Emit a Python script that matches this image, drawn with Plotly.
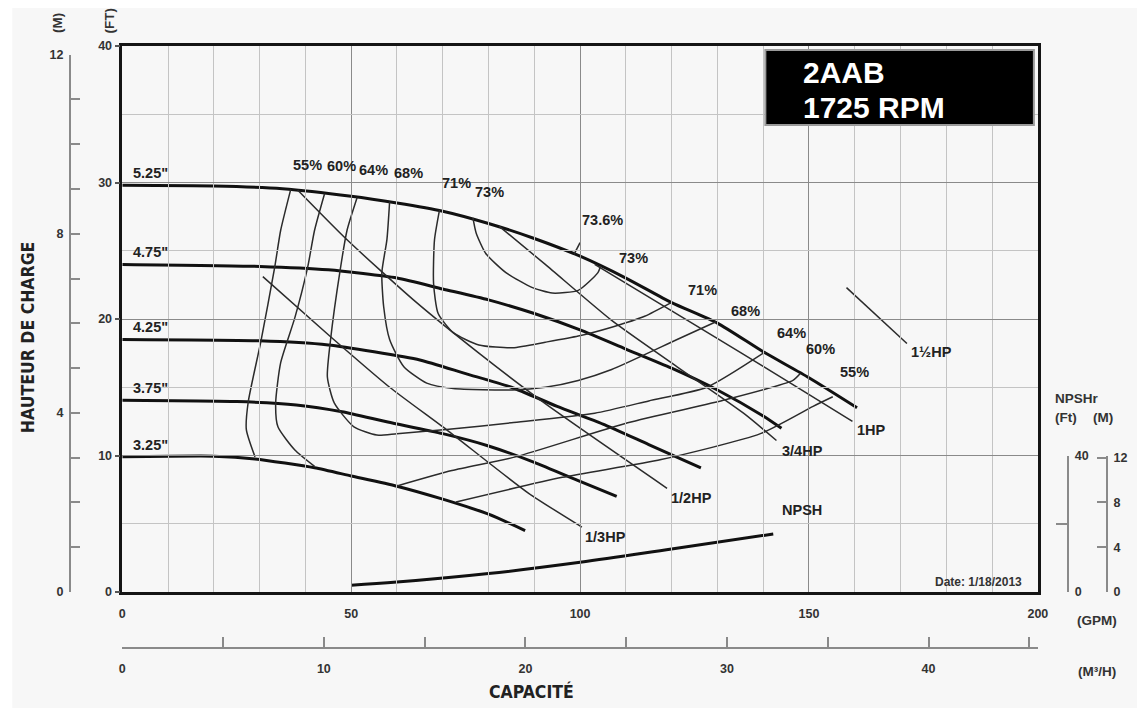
import plotly.graph_objects as go

# ---------------- data ----------------
diam_labels = ['5.25"', '4.75"', '4.25"', '3.75"', '3.25"']

gpm_525 = [0, 20, 35, 50, 60, 70, 80, 90, 100, 110, 120, 130, 140, 150, 160.5]
ft_525 = [29.8, 29.75, 29.55, 29.0, 28.5, 27.9, 27.0, 25.9, 24.6, 23.0, 21.2, 19.7, 17.6, 15.7, 13.5]
gpm_475 = [0, 30, 45, 60, 70, 80, 90, 100, 110, 120, 130, 140, 144]
ft_475 = [24.0, 23.85, 23.6, 23.0, 22.2, 21.4, 20.4, 19.2, 17.8, 16.4, 14.8, 12.9, 12.0]
gpm_425 = [0, 30, 45, 55, 65, 75, 85, 95, 105, 115, 126.4]
ft_425 = [18.5, 18.4, 18.1, 17.6, 17.0, 16.0, 15.0, 13.6, 12.3, 10.8, 9.1]
gpm_375 = [0, 25, 38, 48, 58, 70, 80, 90, 100, 108]
ft_375 = [14.05, 13.95, 13.7, 13.2, 12.45, 11.6, 10.7, 9.5, 8.1, 7.0]
gpm_325 = [0, 20, 29, 42, 50, 60, 70, 80, 88]
ft_325 = [9.9, 9.95, 9.75, 9.1, 8.5, 7.75, 6.8, 5.7, 4.5]

# efficiency contours
eff55a_gpm = [36.8, 34.6, 33.3, 30.3, 27.5, 27.1, 29.0]
eff55a_ft = [29.5, 26.5, 23.8, 18.4, 13.9, 11.9, 9.9]
eff55b_gpm = [72.9, 96.1, 117.7, 139.4, 150.9, 155.2]
eff55b_ft = [6.6, 8.4, 9.7, 11.6, 13.6, 14.3]
eff60a_gpm = [44.2, 42.0, 40.5, 37.7, 34.6, 33.5, 34.0, 37.7, 42.0]
eff60a_ft = [29.2, 26.5, 23.8, 20.1, 16.8, 13.8, 12.1, 10.4, 9.2]
eff60b_gpm = [60.0, 72.0, 85.9, 110.4, 132.0, 146.5, 148.1]
eff60b_ft = [7.77, 8.9, 9.9, 12.4, 14.1, 15.5, 16.0]
eff64_gpm = [51.3, 49.1, 47.6, 45.5, 44.8, 46.3, 50.6, 55.6, 60.0, 70.8, 85.0, 103.2, 115.0, 127.7, 140.5]
eff64_ft = [28.9, 26.5, 23.6, 18.5, 15.75, 13.85, 12.1, 11.5, 11.6, 11.9, 12.4, 13.1, 14.0, 15.0, 17.6]
eff68_gpm = [58.4, 57.8, 56.7, 57.1, 58.4, 61.5, 66.5, 72.3, 85.3, 92.4, 99.6, 106.9, 121.2, 129.7]
eff68_ft = [28.6, 25.8, 23.4, 20.9, 18.5, 16.5, 15.3, 14.9, 14.8, 15.0, 15.5, 16.3, 18.5, 19.8]
eff71_gpm = [69.3, 68.2, 68.0, 69.0, 72.3, 77.9, 85.3, 92.4, 99.6, 106.9, 114.1, 119.9]
eff71_ft = [28.0, 25.8, 22.6, 20.4, 19.0, 18.1, 17.9, 18.3, 18.75, 19.4, 20.2, 21.2]
eff73_gpm = [76.6, 77.3, 79.4, 83.8, 89.6, 93.9, 99.6, 103.9, 104.5]
eff73_ft = [27.4, 26.3, 24.8, 23.4, 22.3, 21.9, 22.1, 23.4, 23.9]
eff736_gpm = [98.7, 100.0]
eff736_ft = [24.75, 25.6]

# horsepower lines
hp13_gpm = [30.7, 45.5, 58.4, 70.8, 88.7, 100.4]
hp13_ft = [23.1, 18.7, 15.0, 11.9, 7.25, 4.76]
hp12_gpm = [38.3, 49.1, 63.6, 77.9, 92.4, 119.0]
hp12_ft = [29.45, 25.8, 21.4, 17.5, 13.8, 7.6]
hp34_gpm = [82.3, 92.4, 106.9, 121.2, 135.7, 142.9]
hp34_ft = [26.8, 24.0, 19.9, 16.5, 13.1, 11.1]
hp1_gpm = [103.2, 124.9, 146.5, 159.5]
hp1_ft = [24.0, 19.6, 15.2, 12.5]
hp15_gpm = [158.2, 171.4]
hp15_ft = [22.3, 18.2]

# NPSH required (ft)
npsh_gpm = [50, 60, 80, 100, 120, 142.2]
npsh_ft = [2.0, 2.9, 5.4, 8.7, 12.6, 17.0]

# tick labels
gpm_ticks = [0, 50, 100, 150, 200]
head_ft_ticks = [0, 10, 20, 30, 40]
head_m_ticks = list(range(0, 13))
head_m_labels = ['0', '', '', '', '4', '', '', '', '8', '', '', '', '12']
m3h_ticks = [0, 5, 10, 15, 20, 25, 30, 35, 40, 45]
m3h_labels = ['0', '', '10', '', '20', '', '30', '', '40', '']
npsh_ft_ticks = [0, 20, 40]
npsh_ft_labels = ['0', '', '40']
npsh_m_ticks = [0, 4, 8, 12]

# ---------------- layout helpers (page pixels -> paper) ----------------
OFF = 8                      # default page body margin
FIG_W, FIG_H = 1147 - OFF, 712 - OFF
PL, PR, PT, PB = 37, 1132, 38, 652      # plot area in figure pixels
W = PR - PL
H = PB - PT


def fx(px):
    return (px - OFF - PL) / W


def fy(py):
    return (PB - (py - OFF)) / H


X0, X1, Y0, Y1 = 123, 1047, 592, 46     # main frame in page pixels
PX_PER_FT = (Y0 - Y1) / 40.0
xdom = [fx(X0), fx(X1)]
ydom = [fy(Y0), fy(Y1)]

TXT = '#222222'
AX_GRAY = '#8a8a8a'
ARIAL = 'Liberation Sans, Arial, sans-serif'
tickfont = dict(family=ARIAL, size=12.5, color='#333333', weight='bold')
labfont = dict(family=ARIAL, size=14.5, color=TXT, weight='bold')
condfont = dict(family='Liberation Sans Narrow, DejaVu Sans Condensed, Open Sans, sans-serif',
                size=17.5, color='#222222', weight='bold')
unitfont = dict(family=ARIAL, size=13.5, color='#333', weight='bold')

fig = go.Figure()

heavy = dict(color='#111111', width=3, shape='spline', smoothing=0.6)
thin = dict(color='#2b2b2b', width=1.5, shape='spline', smoothing=0.6)

for gx, gy in [(gpm_525, ft_525), (gpm_475, ft_475), (gpm_425, ft_425),
               (gpm_375, ft_375), (gpm_325, ft_325)]:
    fig.add_trace(go.Scatter(x=gx, y=gy, mode='lines', line=heavy, hoverinfo='skip'))

for gx, gy in [(eff55a_gpm, eff55a_ft), (eff55b_gpm, eff55b_ft), (eff60a_gpm, eff60a_ft),
               (eff60b_gpm, eff60b_ft), (eff64_gpm, eff64_ft), (eff68_gpm, eff68_ft),
               (eff71_gpm, eff71_ft), (eff73_gpm, eff73_ft), (eff736_gpm, eff736_ft),
               (hp13_gpm, hp13_ft), (hp12_gpm, hp12_ft), (hp34_gpm, hp34_ft),
               (hp1_gpm, hp1_ft), (hp15_gpm, hp15_ft)]:
    fig.add_trace(go.Scatter(x=gx, y=gy, mode='lines', line=thin, hoverinfo='skip'))

# NPSH on its own compressed scale
fig.add_trace(go.Scatter(x=npsh_gpm, y=npsh_ft, mode='lines', xaxis='x', yaxis='y4',
                         line=dict(color='#111111', width=3, shape='spline'), hoverinfo='skip'))
# empty traces so that the secondary scales are drawn
fig.add_trace(go.Scatter(x=[], y=[], xaxis='x', yaxis='y3', hoverinfo='skip'))
fig.add_trace(go.Scatter(x=[], y=[], xaxis='x', yaxis='y5', hoverinfo='skip'))
fig.add_trace(go.Scatter(x=[], y=[], xaxis='x2', yaxis='y', hoverinfo='skip'))

ann = []

# diameter labels
for lab, gy in zip(diam_labels, [ft_525, ft_475, ft_425, ft_375, ft_325]):
    ann.append(dict(x=1.8, y=gy[0] + 0.9, text=lab, xref='x', yref='y', showarrow=False,
                    xanchor='left', yanchor='middle', font=labfont))

# efficiency / HP labels (data coords)
labels = [
    ('55%', 36.8, 31.3), ('60%', 44.2, 31.2), ('64%', 51.3, 30.9), ('68%', 58.9, 30.7),
    ('71%', 69.3, 30.0), ('73%', 76.6, 29.3),
    ('73.6%', 100.0, 27.25), ('73%', 108.0, 24.5), ('71%', 123.2, 22.1), ('68%', 132.5, 20.6),
    ('64%', 142.6, 18.95), ('60%', 148.9, 17.8), ('55%', 156.3, 16.1),
    ('1½HP', 171.9, 17.6), ('1HP', 160.0, 11.9), ('3/4HP', 143.7, 10.3),
    ('1/2HP', 119.5, 6.9), ('1/3HP', 100.6, 4.0), ('NPSH', 143.7, 6.0),
]
for t, x, y in labels:
    ann.append(dict(x=x, y=y, text=t, xref='x', yref='y', showarrow=False,
                    xanchor='left', yanchor='middle', font=labfont))

# box text
boxfont = dict(family=ARIAL, size=30, color='white', weight='bold')
ann.append(dict(x=fx(808), y=fy(72), text='2AAB', xref='paper', yref='paper', showarrow=False,
                xanchor='left', yanchor='middle', font=boxfont))
ann.append(dict(x=fx(808), y=fy(107), text='1725 RPM', xref='paper', yref='paper', showarrow=False,
                xanchor='left', yanchor='middle', font=boxfont))

# date
ann.append(dict(x=fx(1033), y=fy(582), text='Date: 1/18/2013', xref='paper', yref='paper',
                showarrow=False, xanchor='right', yanchor='middle',
                font=dict(family=ARIAL, size=12, color='#333', weight='bold')))

# axis titles and unit labels
ann.append(dict(x=fx(28), y=fy(337), text='HAUTEUR DE CHARGE', textangle=-90, xref='paper',
                yref='paper', showarrow=False, xanchor='center', yanchor='middle', font=condfont))
ann.append(dict(x=fx(536), y=fy(691), text='CAPACITÉ', xref='paper', yref='paper',
                showarrow=False, xanchor='center', yanchor='middle', font=condfont))
ann.append(dict(x=fx(1107), y=fy(620), text='(GPM)', xref='paper', yref='paper', showarrow=False,
                xanchor='center', yanchor='middle', font=unitfont))
ann.append(dict(x=fx(1107), y=fy(671), text='(M³/H)', xref='paper', yref='paper', showarrow=False,
                xanchor='center', yanchor='middle', font=unitfont))
ann.append(dict(x=fx(1062), y=fy(398), text='NPSHr', xref='paper', yref='paper', showarrow=False,
                xanchor='left', yanchor='middle', font=unitfont))
ann.append(dict(x=fx(1062), y=fy(417), text='(Ft)', xref='paper', yref='paper', showarrow=False,
                xanchor='left', yanchor='middle', font=unitfont))
ann.append(dict(x=fx(1101), y=fy(417), text='(M)', xref='paper', yref='paper', showarrow=False,
                xanchor='left', yanchor='middle', font=unitfont))
ann.append(dict(x=fx(58), y=fy(23), text='(M)', textangle=-90, xref='paper', yref='paper',
                showarrow=False, xanchor='center', yanchor='middle', font=unitfont))
ann.append(dict(x=fx(111), y=fy(21), text='(FT)', textangle=-90, xref='paper', yref='paper',
                showarrow=False, xanchor='center', yanchor='middle', font=unitfont))

shapes = [
    # page background look
    dict(type='rect', xref='paper', yref='paper', x0=fx(12), x1=fx(1147), y0=fy(708), y1=fy(4),
         fillcolor='#f7f7f7', line=dict(width=0), layer='below'),
    dict(type='line', xref='paper', yref='paper', x0=fx(12), x1=fx(1147), y0=fy(4), y1=fy(4),
         line=dict(color='#cccccc', width=2), layer='below'),
    # black title box
    dict(type='rect', xref='paper', yref='paper', x0=fx(772), x1=fx(1043), y0=fy(125), y1=fy(50),
         fillcolor='black', line=dict(color='#9a9a9a', width=2), layer='above'),
]

fig.update_layout(
    width=FIG_W, height=FIG_H,
    margin=dict(l=PL, r=FIG_W - PR, t=PT, b=FIG_H - PB, pad=0),
    paper_bgcolor='white', plot_bgcolor='rgba(0,0,0,0)',
    showlegend=False, hovermode=False,
    annotations=ann, shapes=shapes,
    xaxis=dict(domain=xdom, range=[0, 200], anchor='y', tickvals=gpm_ticks,
               showgrid=True, gridcolor='#8a8a8a', gridwidth=1.3,
               minor=dict(dtick=10, showgrid=True, gridcolor='#c4c4c4', gridwidth=1),
               showline=True, mirror=True, linecolor='#151515', linewidth=2.5,
               ticks='', zeroline=False, tickfont=tickfont, ticklabelstandoff=8),
    yaxis=dict(domain=ydom, range=[0, 40], anchor='x', tickvals=head_ft_ticks,
               showgrid=True, gridcolor='#8a8a8a', gridwidth=1.3,
               minor=dict(dtick=5, showgrid=True, gridcolor='#c4c4c4', gridwidth=1),
               showline=True, mirror=True, linecolor='#151515', linewidth=2.5,
               ticks='outside', ticklen=5, tickcolor='#555', tickwidth=1.5,
               zeroline=False, tickfont=tickfont),
    xaxis2=dict(domain=xdom, range=[0, 200 * 0.227125], anchor='free', position=fy(648),
                side='bottom', tickvals=m3h_ticks, ticktext=m3h_labels,
                showgrid=False, zeroline=False, showline=True, linecolor=AX_GRAY, linewidth=1.5,
                ticks='inside', ticklen=10, tickcolor=AX_GRAY, tickwidth=1.5,
                tickfont=tickfont, ticklabelstandoff=9),
    yaxis3=dict(domain=[fy(Y0), fy(Y0 - 39.37 * PX_PER_FT)], range=[0, 12], anchor='free',
                position=fx(70), side='left', tickvals=head_m_ticks, ticktext=head_m_labels,
                showgrid=False, zeroline=False, showline=True, linecolor=AX_GRAY, linewidth=1.5,
                ticks='inside', ticklen=9, tickcolor=AX_GRAY, tickwidth=1.5,
                tickfont=tickfont, ticklabelstandoff=3),
    yaxis4=dict(domain=[fy(Y0), fy(Y0 - 10 * PX_PER_FT)], range=[0, 40], anchor='free',
                position=fx(1077), side='right', tickvals=npsh_ft_ticks, ticktext=npsh_ft_labels,
                showgrid=False, zeroline=False, showline=True, linecolor=AX_GRAY, linewidth=1.5,
                ticks='inside', ticklen=11, tickcolor=AX_GRAY, tickwidth=1.5,
                tickfont=tickfont, ticklabelstandoff=4),
    yaxis5=dict(domain=[fy(Y0), fy(Y0 - 10 * PX_PER_FT)], range=[0, 40 * 0.3048], anchor='free',
                position=fx(1117), side='right', tickvals=npsh_m_ticks,
                showgrid=False, zeroline=False, showline=True, linecolor=AX_GRAY, linewidth=1.5,
                ticks='inside', ticklen=9, tickcolor=AX_GRAY, tickwidth=1.5,
                tickfont=tickfont, ticklabelstandoff=3),
)

fig.write_html('out.html')
